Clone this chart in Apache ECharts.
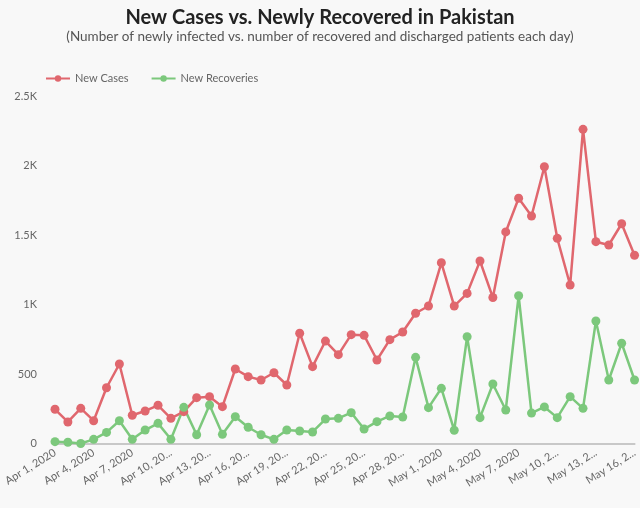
<!DOCTYPE html>
<html>
<head>
<meta charset="utf-8">
<script src="https://cdn.jsdelivr.net/npm/echarts@6/dist/echarts.min.js"></script>
<style>
  html, body { margin: 0; padding: 0; background: #f8f8f8; }
  #main { width: 640px; height: 508px; }
</style>
</head>
<body>
<div id="main"></div>
<script>
// 日期
const days = [
  'Apr 1, 2020', 'Apr 2, 2020', 'Apr 3, 2020', 'Apr 4, 2020', 'Apr 5, 2020', 'Apr 6, 2020',
  'Apr 7, 2020', 'Apr 8, 2020', 'Apr 9, 2020', 'Apr 10, 2020', 'Apr 11, 2020', 'Apr 12, 2020',
  'Apr 13, 2020', 'Apr 14, 2020', 'Apr 15, 2020', 'Apr 16, 2020', 'Apr 17, 2020', 'Apr 18, 2020',
  'Apr 19, 2020', 'Apr 20, 2020', 'Apr 21, 2020', 'Apr 22, 2020', 'Apr 23, 2020', 'Apr 24, 2020',
  'Apr 25, 2020', 'Apr 26, 2020', 'Apr 27, 2020', 'Apr 28, 2020', 'Apr 29, 2020', 'Apr 30, 2020',
  'May 1, 2020', 'May 2, 2020', 'May 3, 2020', 'May 4, 2020', 'May 5, 2020', 'May 6, 2020',
  'May 7, 2020', 'May 8, 2020', 'May 9, 2020', 'May 10, 2020', 'May 11, 2020', 'May 12, 2020',
  'May 13, 2020', 'May 14, 2020', 'May 15, 2020', 'May 16, 2020'
]
// 新增病例
const newCases = [
  246, 155, 253, 164, 401, 572, 203, 234, 275, 181, 229, 330,
  337, 265, 536, 481, 457, 509, 421, 793, 553, 737, 639, 783,
  778, 601, 747, 802, 937, 989, 1300, 989, 1080, 1313, 1050, 1522,
  1764, 1637, 1991, 1476, 1140, 2260, 1452, 1428, 1581, 1354
]
// 新增治愈
const newRecoveries = [
  13, 9, 0, 30, 80, 164, 30, 97, 145, 30, 260, 63,
  277, 66, 193, 117, 63, 30, 97, 90, 83, 176, 181, 222,
  104, 157, 198, 191, 620, 258, 397, 95, 768, 186, 428, 241,
  1063, 219, 263, 186, 337, 253, 881, 457, 721, 457
]
const yTicks = ['0', '500', '1K', '1.5K', '2K', '2.5K']

const font = 'Lato, "Noto Sans", sans-serif'
const myChart = echarts.init(document.getElementById('main'))

const option = {
  backgroundColor: '#f8f8f8',
  title: {
    text: 'New Cases vs. Newly Recovered in Pakistan',
    subtext: '(Number of newly infected vs. number of recovered and discharged patients each day)',
    left: 'center',
    top: 3,
    itemGap: 2,
    textStyle: { fontFamily: font, fontSize: 20, fontWeight: 'bold', color: '#222' },
    subtextStyle: { fontFamily: font, fontSize: 13.5, color: '#555' }
  },
  legend: {
    left: 40,
    top: 68,
    itemWidth: 24,
    itemHeight: 8,
    itemGap: 22,
    textStyle: { fontFamily: font, fontSize: 11, color: '#666' },
    data: ['New Cases', 'New Recoveries']
  },
  grid: { left: 55, right: 5, top: 96, bottom: 64.5 },
  xAxis: {
    type: 'category',
    data: days,
    boundaryGap: false,
    axisLine: { lineStyle: { color: '#c8c8c8', width: 2 } },
    axisTick: { show: false },
    axisLabel: {
      interval: 2,
      rotate: 32,
      fontFamily: font,
      fontSize: 11,
      color: '#666',
      width: 64,
      overflow: 'truncate',
      ellipsis: '...'
    }
  },
  yAxis: {
    type: 'value',
    min: 0,
    max: 2500,
    interval: 500,
    splitLine: { show: false },
    axisLine: { show: false },
    axisTick: { show: false },
    axisLabel: {
      fontFamily: font,
      fontSize: 11,
      color: '#666',
      margin: 18,
      formatter: (v) => yTicks[v / 500]
    }
  },
  series: [
    {
      name: 'New Cases',
      type: 'line',
      data: newCases,
      symbol: 'circle',
      symbolSize: 9,
      showAllSymbol: true,
      itemStyle: { color: '#e0676e' },
      lineStyle: { color: '#e0676e', width: 2.5 }
    },
    {
      name: 'New Recoveries',
      type: 'line',
      data: newRecoveries,
      symbol: 'circle',
      symbolSize: 9,
      showAllSymbol: true,
      itemStyle: { color: '#7cc87c' },
      lineStyle: { color: '#7cc87c', width: 2.5 }
    }
  ]
}

option && myChart.setOption(option)
</script>
</body>
</html>
